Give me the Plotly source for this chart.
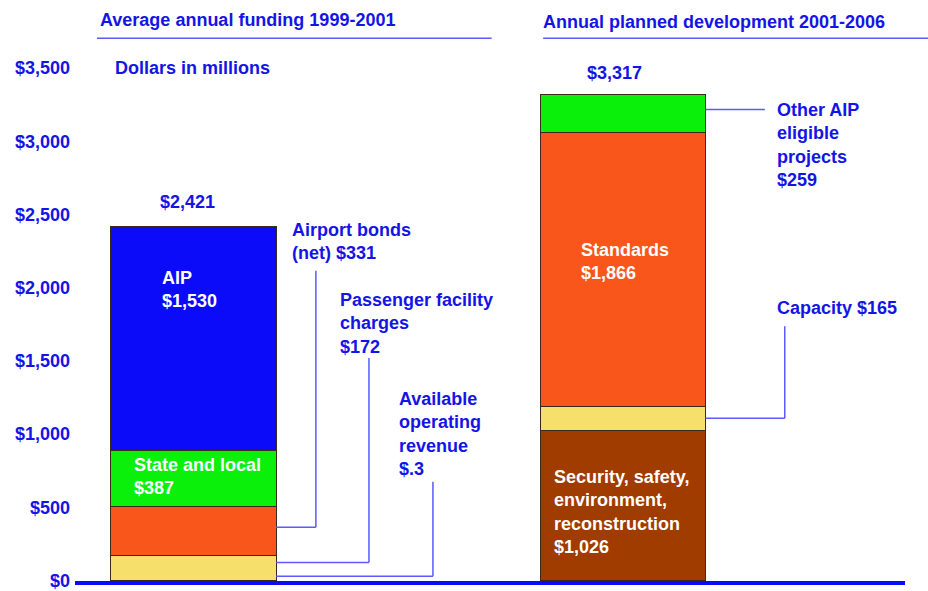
import plotly.graph_objects as go

# Data (dollars in millions)
groups = ["Average annual funding 1999-2001", "Annual planned development 2001-2006"]
funding_labels = ["Available operating revenue", "Passenger facility charges",
                  "Airport bonds (net)", "State and local", "AIP"]
funding_values = [0.3, 172, 331, 387, 1530]
funding_colors = ["#f08a2a", "#f7df6b", "#f9561b", "#0af00a", "#0b0bfa"]
dev_labels = ["Security, safety, environment, reconstruction", "Capacity",
              "Standards", "Other AIP eligible projects"]
dev_values = [1026, 165, 1866, 259]
dev_colors = ["#a03c00", "#f7df6b", "#f9561b", "#0af00a"]
totals = [2421, 3317]
y_ticks = [0, 500, 1000, 1500, 2000, 2500, 3000, 3500]

TEXT_BLUE = "#1414e6"
LEAD_BLUE = "#5a5aff"
FONT = "Liberation Sans, Arial, sans-serif"
FS = 18
BAR_W = 0.385

fig = go.Figure()

# stacked segments
for xpos, labels, values, colors in [(0, funding_labels, funding_values, funding_colors),
                                     (1, dev_labels, dev_values, dev_colors)]:
    for lab, val, col in zip(labels, values, colors):
        fig.add_trace(go.Bar(
            x=[xpos], y=[val], width=BAR_W, name=lab,
            marker=dict(color=col, line=dict(color="#3a2a1a", width=1)),
            hovertemplate=lab + "<br>$%{y:,}<extra></extra>",
        ))


def seg_bounds(values):
    out, base = [], 0
    for v in values:
        out.append((base, base + v))
        base += v
    return out


fb = seg_bounds(funding_values)
db = seg_bounds(dev_values)

annos = []


def txt(text, x, y, xanchor="left", yanchor="middle", color=TEXT_BLUE, xref="x", yref="y",
        yshift=0, size=FS):
    annos.append(dict(text=text, x=x, y=y, xref=xref, yref=yref, xanchor=xanchor,
                      yanchor=yanchor, align="left", showarrow=False, yshift=yshift,
                      font=dict(family=FONT, size=size, color=color, weight="bold")))


# totals above bars
txt(f"${totals[0]:,}", -0.013, totals[0], xanchor="center", yanchor="bottom", yshift=12)
txt(f"${totals[1]:,}", 0.98, totals[1], xanchor="center", yanchor="bottom", yshift=10)

# inside labels (white)
txt(f"AIP<br>${funding_values[4]:,}", -0.078, 1989, color="white")
txt(f"State and local<br>${funding_values[3]:,}", -0.143, 710, color="white")
txt(f"Standards<br>${dev_values[2]:,}", 0.8976, 2180, color="white")
txt(f"Security, safety,<br>environment,<br>reconstruction<br>${dev_values[0]:,}",
    0.8347, 470, color="white")

# callouts with elbow leaders
shapes = []


def lead(points):
    for (x0, y0), (x1, y1) in zip(points[:-1], points[1:]):
        shapes.append(dict(type="line", xref="x", yref="y", x0=x0, y0=y0, x1=x1, y1=y1,
                           line=dict(color=LEAD_BLUE, width=1.5)))


edge = BAR_W / 2
# Airport bonds
y_b = fb[2][0] + 0.58 * funding_values[2]
lead([(edge, y_b), (0.285, y_b), (0.285, 2115)])
txt(f"Airport bonds<br>(net) ${funding_values[2]:,}", 0.225, 2115, yanchor="bottom", yshift=6)
# Passenger facility charges
y_p = fb[1][0] + 0.72 * funding_values[1]
lead([(edge, y_p), (0.4086, y_p), (0.4086, 1519)])
txt(f"Passenger facility<br>charges<br>${funding_values[1]:,}", 0.3364, 1519,
    yanchor="bottom", yshift=-1)
# Available operating revenue
y_a = 30
lead([(edge, y_a), (0.5576, y_a), (0.5576, 674)])
txt(f"Available<br>operating<br>revenue<br>${funding_values[0]:.1f}".replace("$0.", "$."),
    0.4738, 674, yanchor="bottom", yshift=1)
# Other AIP eligible projects
y_o = (db[3][0] + db[3][1]) / 2 + 30
lead([(1 + edge, y_o), (1.3306, y_o)])
txt(f"Other AIP<br>eligible<br>projects<br>${dev_values[3]:,}", 1.354, y_o,
    yanchor="top", yshift=12)
# Capacity
y_c = (db[1][0] + db[1][1]) / 2
lead([(1 + edge, y_c), (1.377, y_c), (1.377, 1737)])
txt(f"Capacity ${dev_values[1]:,}", 1.354, 1737, yanchor="bottom", yshift=6)

# headers with underlines
txt(groups[0], 0.0277, 1.093, xref="paper", yref="paper")
txt(groups[1], 0.561, 1.089, xref="paper", yref="paper")
for x0, x1 in [(0.0265, 0.502), (0.564, 1.03)]:
    shapes.append(dict(type="line", xref="paper", yref="paper", x0=x0, x1=x1, y0=1.058,
                       y1=1.058, line=dict(color=LEAD_BLUE, width=1.5)))
txt("Dollars in millions", 0.0458, 1.0, xref="paper", yref="paper")

fig.update_layout(
    barmode="stack",
    width=928, height=591,
    margin=dict(l=75, r=23, t=68, b=10),
    plot_bgcolor="white", paper_bgcolor="white",
    showlegend=False,
    annotations=annos,
    shapes=shapes,
    font=dict(family=FONT, color=TEXT_BLUE, weight="bold"),
    xaxis=dict(range=[-0.276, 1.657], showticklabels=False, showgrid=False,
               zeroline=False, showline=True, linecolor="#0b0bfa", linewidth=4,
               automargin=False, fixedrange=True),
    yaxis=dict(range=[-3, 3500], tickvals=y_ticks,
               ticktext=[f"${v:,}" for v in y_ticks],
               showgrid=False, zeroline=False, showline=False, ticks="",
               ticklabelstandoff=4, automargin=False,
               tickfont=dict(family=FONT, size=FS, color=TEXT_BLUE, weight="bold"),
               fixedrange=True),
)

fig.write_html("out.html", config={"displayModeBar": False},
               post_script="document.body.style.margin='0';")
